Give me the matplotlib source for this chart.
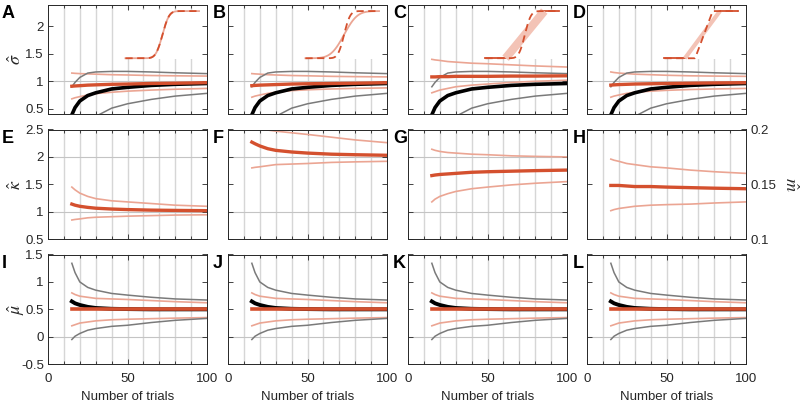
import numpy as np
import matplotlib
matplotlib.use('Agg')
import matplotlib.pyplot as plt
from matplotlib.patches import Rectangle
from math import erf, sqrt

plt.rcParams['font.family'] = ['Liberation Sans', 'DejaVu Sans']
plt.rcParams['mathtext.fontset'] = 'stix'

# --- data ---
n_trials = [15, 17, 20, 25, 30, 40, 50, 65, 80, 100]
nan = np.nan

# row 1: sigma estimates
sig_black = [0.39, 0.52, 0.64, 0.74, 0.79, 0.86, 0.89, 0.925, 0.945, 0.96]
sig_grey_hi = [0.90, 0.98, 1.07, 1.15, 1.17, 1.18, 1.18, 1.17, 1.155, 1.14]
sig_grey_lo = [nan, nan, nan, nan, 0.36, 0.51, 0.59, 0.67, 0.73, 0.78]
sig_red = {
    'A': [0.91, 0.915, 0.92, 0.93, 0.935, 0.945, 0.95, 0.96, 0.965, 0.975],
    'B': [0.92, 0.925, 0.93, 0.935, 0.94, 0.95, 0.955, 0.96, 0.965, 0.975],
    'C': [1.08, 1.08, 1.085, 1.085, 1.09, 1.09, 1.09, 1.095, 1.095, 1.10],
    'D': [0.93, 0.935, 0.94, 0.945, 0.95, 0.955, 0.96, 0.965, 0.97, 0.975],
}
sig_red_hi = {
    'A': [1.15, 1.145, 1.14, 1.135, 1.13, 1.12, 1.115, 1.105, 1.10, 1.095],
    'B': [1.14, 1.135, 1.13, 1.12, 1.115, 1.105, 1.10, 1.09, 1.085, 1.08],
    'C': [1.40, 1.39, 1.38, 1.36, 1.35, 1.33, 1.32, 1.30, 1.28, 1.26],
    'D': [1.17, 1.16, 1.15, 1.14, 1.13, 1.12, 1.11, 1.10, 1.095, 1.09],
}
sig_red_lo = {
    'A': [0.68, 0.70, 0.72, 0.75, 0.775, 0.80, 0.82, 0.84, 0.855, 0.87],
    'B': [0.71, 0.73, 0.75, 0.78, 0.80, 0.83, 0.845, 0.86, 0.87, 0.88],
    'C': [0.79, 0.81, 0.84, 0.87, 0.90, 0.93, 0.95, 0.98, 1.00, 1.02],
    'D': [0.71, 0.73, 0.75, 0.78, 0.80, 0.82, 0.835, 0.85, 0.86, 0.87],
}

# row 2: kappa (E-G) and m (H)
kap_red = {
    'E': [1.14, 1.12, 1.10, 1.08, 1.065, 1.05, 1.04, 1.03, 1.025, 1.02],
    'F': [2.27, 2.24, 2.20, 2.15, 2.12, 2.09, 2.07, 2.05, 2.04, 2.03],
    'G': [1.66, 1.67, 1.68, 1.69, 1.70, 1.72, 1.73, 1.74, 1.75, 1.76],
    'H': [0.149, 0.149, 0.149, 0.1485, 0.148, 0.148, 0.1475, 0.147, 0.1465, 0.146],
}
kap_red_hi = {
    'E': [1.45, 1.40, 1.34, 1.28, 1.24, 1.20, 1.18, 1.15, 1.12, 1.10],
    'F': [2.60, 2.56, 2.52, 2.49, 2.47, 2.44, 2.41, 2.36, 2.31, 2.26],
    'G': [2.14, 2.12, 2.10, 2.08, 2.07, 2.05, 2.04, 2.02, 2.01, 2.00],
    'H': [0.173, 0.172, 0.171, 0.169, 0.168, 0.166, 0.165, 0.163, 0.1615, 0.160],
}
kap_red_lo = {
    'E': [0.85, 0.86, 0.87, 0.89, 0.90, 0.91, 0.92, 0.93, 0.94, 0.945],
    'F': [1.80, 1.81, 1.82, 1.84, 1.86, 1.87, 1.88, 1.90, 1.91, 1.92],
    'G': [1.18, 1.23, 1.28, 1.33, 1.37, 1.42, 1.45, 1.49, 1.52, 1.55],
    'H': [0.126, 0.127, 0.128, 0.129, 0.130, 0.131, 0.1315, 0.132, 0.133, 0.134],
}

# row 3: mu (same in I-L)
mu_black = [0.645, 0.61, 0.58, 0.545, 0.525, 0.51, 0.505, 0.50, 0.50, 0.50]
mu_grey_hi = [1.34, 1.17, 1.00, 0.90, 0.85, 0.79, 0.76, 0.72, 0.69, 0.67]
mu_grey_lo = [-0.05, 0.01, 0.06, 0.12, 0.15, 0.19, 0.21, 0.26, 0.30, 0.335]
mu_red = [0.50, 0.50, 0.50, 0.50, 0.50, 0.50, 0.50, 0.50, 0.50, 0.50]
mu_red_hi = [0.80, 0.77, 0.74, 0.72, 0.70, 0.69, 0.68, 0.66, 0.64, 0.62]
mu_red_lo = [0.20, 0.22, 0.25, 0.27, 0.29, 0.31, 0.32, 0.33, 0.34, 0.35]

# insets in row 1: psychometric shapes (true = light, fit = dashed)
inset_x = [48.7, 95.0]
inset_levels = [1.42, 2.28]
true_kind = {'A': 'sig', 'B': 'sig', 'C': 'ramp', 'D': 'ramp'}
true_par = {'A': (72, 3.3), 'B': (73, 6.5), 'C': (61.4, 85.7), 'D': (61.6, 83.6)}
true_lw = {'A': 1.3, 'B': 1.3, 'C': 6.0, 'D': 3.0}
fit_kind = {'A': 'sig', 'B': 'sig', 'C': 'sig', 'D': 'ramp'}
fit_par = {'A': (72, 3.3), 'B': (73, 3.0), 'C': (73.5, 3.0), 'D': (68, 79)}

# axis settings
row_ylim = [(0.4, 2.4), (0.5, 2.5), (-0.5, 1.5)]
row_yticks = [[0.5, 1, 1.5, 2], [0.5, 1, 1.5, 2, 2.5], [-0.5, 0, 0.5, 1, 1.5]]
row_yticklabels = [['0.5', '1', '1.5', '2'], ['0.5', '1', '1.5', '2', '2.5'],
                   ['-0.5', '0', '0.5', '1', '1.5']]
row_hlines = [[1], [1, 2], [0]]
row_ylabels = [r'$\hat{\sigma}$', r'$\hat{\kappa}$', r'$\hat{\mu}$']
m_ylim = (0.1, 0.2)
m_yticks = [0.1, 0.15, 0.2]
m_yticklabels = ['0.1', '0.15', '0.2']
xticks = [0, 50, 100]
xticklabels = ['0', '50', '100']
letters = [['A', 'B', 'C', 'D'], ['E', 'F', 'G', 'H'], ['I', 'J', 'K', 'L']]

RED = '#d4502e'
LIGHT = '#eba593'
PINK = '#f3c3b6'
GREY = '#7a7a7a'
DARK = '#262626'

W, H = 800, 405
fig = plt.figure(figsize=(W / 100, H / 100), dpi=100)

col_left = [48, 228, 408, 587]
row_top = [4.5, 129.5, 254.5]
ax_w, ax_h = 159, 109.7


def shape(kind, par, x):
    lo, hi = inset_levels
    if kind == 'sig':
        c, s = par
        p = np.array([0.5 * (1 + erf((v - c) / (s * sqrt(2)))) for v in x])
    else:
        p = np.interp(x, [inset_x[0], par[0], par[1], inset_x[1]], [0, 0, 1, 1])
    return lo + (hi - lo) * p


for r in range(3):
    for c in range(4):
        L = letters[r][c]
        ax = fig.add_axes([col_left[c] / W, 1 - (row_top[r] + ax_h) / H, ax_w / W, ax_h / H])
        ax.set_xlim(0, 100)
        ax.set_ylim(*row_ylim[r])

        # grid
        for gx in np.arange(10, 100, 10):
            ax.axvline(gx, color='#d6d6d6', lw=1.0, zorder=0.5)
        if L != 'H':
            for gy in row_hlines[r]:
                ax.axhline(gy, color='#c4c4c4', lw=0.8, zorder=0.5)

        if r == 0:
            ax.plot(n_trials, sig_red_hi[L], color=LIGHT, lw=1.2, zorder=2)
            ax.plot(n_trials, sig_red_lo[L], color=LIGHT, lw=1.2, zorder=2)
            ax.plot(n_trials, sig_grey_hi, color=GREY, lw=1.1, zorder=2)
            ax.plot(n_trials, sig_grey_lo, color=GREY, lw=1.1, zorder=2)
            ax.plot(n_trials, sig_black, color='black', lw=2.6, zorder=3)
            ax.plot(n_trials, sig_red[L], color=RED, lw=2.4, zorder=4)

            # inset
            ax.add_patch(Rectangle((47, 1.40), 50, 0.90, facecolor='white',
                                   edgecolor='none', zorder=1.5))
            xs = np.linspace(inset_x[0], inset_x[1], 300)
            if true_kind[L] == 'ramp':
                a, b = true_par[L]
                ax.plot([inset_x[0], a], [inset_levels[0]] * 2, color=RED, lw=1.3, zorder=5)
                ax.plot([b, inset_x[1]], [inset_levels[1]] * 2, color=RED, lw=1.3, zorder=5)
                ax.plot([a, b], inset_levels, color=PINK, lw=true_lw[L],
                        solid_capstyle='butt', zorder=5)
            else:
                ax.plot(xs, shape('sig', true_par[L], xs), color=LIGHT, lw=true_lw[L], zorder=5)
            ax.plot(xs, shape(fit_kind[L], fit_par[L], xs), color=RED, lw=1.3,
                    dashes=(4, 2.5), zorder=6)
        elif r == 1:
            if L == 'H':
                ax.set_ylim(*m_ylim)
            ax.plot(n_trials, kap_red_hi[L], color=LIGHT, lw=1.2, zorder=2)
            ax.plot(n_trials, kap_red_lo[L], color=LIGHT, lw=1.2, zorder=2)
            ax.plot(n_trials, kap_red[L], color=RED, lw=2.4, zorder=4)
        else:
            ax.plot(n_trials, mu_red_hi, color=LIGHT, lw=1.2, zorder=2)
            ax.plot(n_trials, mu_red_lo, color=LIGHT, lw=1.2, zorder=2)
            ax.plot(n_trials, mu_grey_hi, color=GREY, lw=1.1, zorder=2)
            ax.plot(n_trials, mu_grey_lo, color=GREY, lw=1.1, zorder=2)
            ax.plot(n_trials, mu_black, color='black', lw=2.8, zorder=3)
            ax.plot(n_trials, mu_red, color=RED, lw=2.6, zorder=4)

        # ticks
        ax.set_xticks(xticks)
        ax.set_xticks(np.arange(10, 100, 10), minor=True)
        if r == 2:
            ax.set_xticklabels(xticklabels)
            ax.set_xlabel('Number of trials', fontsize=9.5, color=DARK, labelpad=5)
        else:
            ax.set_xticklabels([])
        if L == 'H':
            ax.set_yticks(m_yticks)
            ax.set_yticklabels(m_yticklabels)
            ax.yaxis.tick_right()
        else:
            ax.set_yticks(row_yticks[r])
            ax.set_yticklabels(row_yticklabels[r] if c == 0 else [])
        ax.tick_params(which='both', direction='in', top=True, right=True, left=True,
                       colors=DARK, labelsize=9.5, width=0.6)
        ax.tick_params(which='major', length=3.5)
        ax.tick_params(which='minor', length=2.5)
        ax.tick_params(axis='x', pad=6)
        ax.tick_params(axis='y', pad=3)
        for sp in ax.spines.values():
            sp.set_color(DARK)
            sp.set_linewidth(0.7)

        fig.text([2, 213, 393, 573][c] / W, 1 - (row_top[r] + 9) / H, L,
                 fontsize=13, fontweight='bold', ha='left', va='center')

    fig.text(16 / W, 1 - (row_top[r] + ax_h / 2) / H, row_ylabels[r],
             fontsize=13, rotation=90, ha='center', va='center', color=DARK)

fig.text(790 / W, 1 - (row_top[1] + ax_h / 2) / H, r'$\hat{m}$',
         fontsize=13, rotation=-90, ha='center', va='center', color=DARK)

fig.savefig('out.png', dpi=100)
